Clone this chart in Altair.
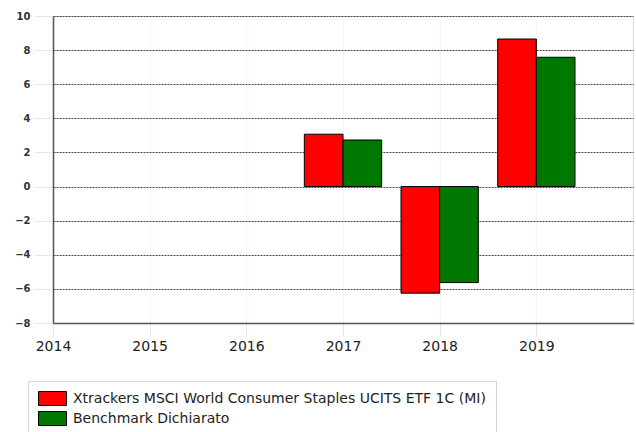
import altair as alt
import pandas as pd

years = [2017, 2018, 2019]
fund = [3.07, -6.25, 8.65]
bench = [2.73, -5.63, 7.58]
series_names = ["Xtrackers MSCI World Consumer Staples UCITS ETF 1C (MI)", "Benchmark Dichiarato"]
colors = ["#ff0000", "#007800"]
x_ticks = [2014, 2015, 2016, 2017, 2018, 2019]
y_ticks = [-8, -6, -4, -2, 0, 2, 4, 6, 8, 10]

rows = []
for i, yr in enumerate(years):
    rows.append({"year": yr, "series": series_names[0], "value": fund[i], "idx": 0})
    rows.append({"year": yr, "series": series_names[1], "value": bench[i], "idx": 1})
df = pd.DataFrame(rows)

rect_path = "M-2,-1L2,-1L2,1L-2,1Z"

bars = alt.Chart(df).transform_calculate(
    x0="datum.year - 0.4 + datum.idx * 0.4",
    x1="datum.year + datum.idx * 0.4",
).mark_bar(stroke="black", strokeWidth=1).encode(
    x=alt.X(
        "x0:Q",
        title=None,
        scale=alt.Scale(domain=[2014, 2020], nice=False, zero=False),
        axis=alt.Axis(
            values=x_ticks, format="d", grid=True, gridColor="#e2ecf8",
            gridDash=[1, 1],
            tickColor="#dce8f7", tickSize=13, labelPadding=3,
            labelFontSize=14, labelFont="DejaVu Sans", labelColor="#222",
            domainColor="#555", domainWidth=1.5, labelFlush=False,
        ),
    ),
    x2="x1:Q",
    y=alt.Y(
        "value:Q",
        title=None,
        scale=alt.Scale(domain=[-8, 10], nice=False),
        axis=alt.Axis(
            values=y_ticks, grid=True, gridColor="#444", gridDash=[2, 1],
            tickColor="#dce8f7", tickSize=19, labelPadding=4,
            labelFontSize=10, labelFontWeight="bold", labelFont="DejaVu Sans",
            labelColor="#333", domainColor="#555", domainWidth=1.5,
        ),
    ),
    y2=alt.datum(0),
    color=alt.Color(
        "series:N",
        scale=alt.Scale(domain=series_names, range=colors),
        legend=alt.Legend(
            title=None, orient="none", legendX=-25, legendY=365,
            strokeColor="#d6d6d6", padding=10, symbolType=rect_path,
            symbolSize=196, symbolStrokeColor="black", symbolStrokeWidth=1,
            symbolOpacity=1, symbolOffset=7, labelFontSize=14, labelFont="DejaVu Sans",
            labelColor="#222", rowPadding=1, labelOffset=13, labelLimit=700,
        ),
    ),
).properties(width=580, height=307)

chart = bars.properties(
    autosize=alt.AutoSizeParams(type="none"),
    padding={"left": 53, "top": 16, "right": 3, "bottom": 109},
).configure_view(stroke=None).configure(background="white")

chart.save("out.html", embed_options={"renderer": "svg", "actions": False})
